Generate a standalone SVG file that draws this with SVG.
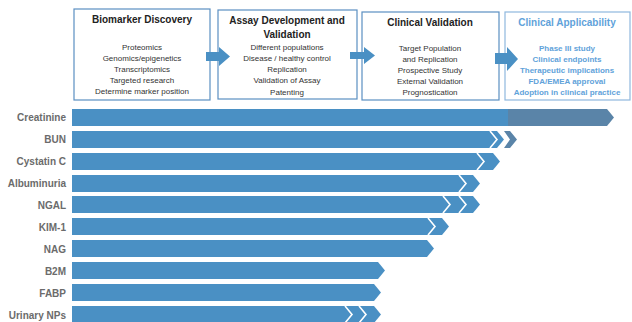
<svg xmlns="http://www.w3.org/2000/svg" width="632" height="322" viewBox="0 0 632 322">
<style>
.box{fill:#fff;stroke:#5b8fc2;stroke-width:1.2}
.box4{fill:#fff;stroke:#8fb8de;stroke-width:1.2}
.t{font-family:"Liberation Sans",Arial,sans-serif;font-size:10px;font-weight:bold;fill:#222;text-anchor:middle}
.i{font-family:"Liberation Sans",Arial,sans-serif;font-size:8px;fill:#333;text-anchor:middle}
.t4{fill:#5fa2da}
.i4{fill:#5fa2da;font-weight:bold}
.lbl{font-family:"Liberation Sans",Arial,sans-serif;font-size:10px;font-weight:bold;fill:#6b6b6b;text-anchor:end}
.bar{fill:#4a90c4}
.dark{fill:#5a84a8}
.chev{fill:none;stroke:#fff;stroke-width:1.6}
.arr{fill:#4a90c4}
</style>
<rect width="632" height="322" fill="#fff"/>
<g id="node-biomarker-discovery">
<rect class="box" x="74" y="9" width="136" height="91"/>
<text class="t" x="142" y="23">Biomarker Discovery</text>
<text class="i" x="142" y="50">Proteomics</text>
<text class="i" x="142" y="61">Genomics/epigenetics</text>
<text class="i" x="142" y="72">Transcriptomics</text>
<text class="i" x="142" y="83">Targeted research</text>
<text class="i" x="142" y="94">Determine marker position</text>
</g>
<g id="node-assay-development">
<rect class="box" x="218" y="10" width="139" height="89"/>
<text class="t" x="287" y="24">Assay Development and</text>
<text class="t" x="287" y="38">Validation</text>
<text class="i" x="287" y="50">Different populations</text>
<text class="i" x="287" y="61">Disease / healthy control</text>
<text class="i" x="287" y="72">Replication</text>
<text class="i" x="287" y="83">Validation of Assay</text>
<text class="i" x="287" y="95">Patenting</text>
</g>
<g id="node-clinical-validation">
<rect class="box" x="362" y="12" width="137" height="88"/>
<text class="t" x="430" y="26">Clinical Validation</text>
<text class="i" x="430" y="51">Target Population</text>
<text class="i" x="430" y="62">and Replication</text>
<text class="i" x="430" y="73">Prospective Study</text>
<text class="i" x="430" y="84">External Validation</text>
<text class="i" x="430" y="95">Prognostication</text>
</g>
<g id="node-clinical-applicability">
<rect class="box4" x="505" y="12" width="125" height="88"/>
<text class="t t4" x="567" y="26">Clinical Applicability</text>
<text class="i i4" x="567" y="51">Phase III study</text>
<text class="i i4" x="567" y="62">Clinical endpoints</text>
<text class="i i4" x="567" y="73">Therapeutic implications</text>
<text class="i i4" x="567" y="84">FDA/EMEA approval</text>
<text class="i i4" x="567" y="95">Adoption in clinical practice</text>
</g>
<g id="connectors">
<polygon class="arr" points="206,52 219,52 219,47 230,56.5 219,66 219,61 206,61"/>
<polygon class="arr" points="350,52 364,52 364,47 375,55.5 364,64 364,59 350,59"/>
<polygon class="arr" fill="#3f7fb5" points="495,53 507,53 507,47 518,59 507,71 507,64 495,64"/>
</g>
<g id="rows">
<g id="row-creatinine">
<text class="lbl" x="66" y="121">Creatinine</text>
<rect class="bar" x="72" y="109" width="437" height="17"/>
<polygon class="dark" points="508,109 607,109 614,117.5 607,126 508,126"/>
</g>
<g id="row-bun">
<text class="lbl" x="66" y="143">BUN</text>
<polygon class="bar" points="72,131 497,131 504,139.5 497,148 72,148"/>
<polyline class="chev" points="490,131 497,139.5 490,148"/>
<polygon class="dark" points="504,131 510,131 517,139.5 510,148 504,148 510,139.5"/>
</g>
<g id="row-cystatin-c">
<text class="lbl" x="66" y="165">Cystatin C</text>
<polygon class="bar" points="72,153 493,153 500,161.5 493,170 72,170"/>
<polyline class="chev" points="477,153 484,161.5 477,170"/>
</g>
<g id="row-albuminuria">
<text class="lbl" x="66" y="187">Albuminuria</text>
<polygon class="bar" points="72,175 473,175 480,183.5 473,192 72,192"/>
<polyline class="chev" points="459,175 466,183.5 459,192"/>
</g>
<g id="row-ngal">
<text class="lbl" x="66" y="209">NGAL</text>
<polygon class="bar" points="72,196 473,196 480,204.5 473,213 72,213"/>
<polyline class="chev" points="443,196 450,204.5 443,213"/>
<polyline class="chev" points="459,196 466,204.5 459,213"/>
</g>
<g id="row-kim-1">
<text class="lbl" x="66" y="231">KIM-1</text>
<polygon class="bar" points="72,218 442,218 449,226.5 442,235 72,235"/>
<polyline class="chev" points="428,218 435,226.5 428,235"/>
</g>
<g id="row-nag">
<text class="lbl" x="66" y="253">NAG</text>
<polygon class="bar" points="72,240 427,240 434,248.5 427,257 72,257"/>
</g>
<g id="row-b2m">
<text class="lbl" x="66" y="275">B2M</text>
<polygon class="bar" points="72,262 378,262 385,270.5 378,279 72,279"/>
</g>
<g id="row-fabp">
<text class="lbl" x="66" y="297">FABP</text>
<polygon class="bar" points="72,284 374,284 381,292.5 374,301 72,301"/>
</g>
<g id="row-urinary-nps">
<text class="lbl" x="66" y="319">Urinary NPs</text>
<polygon class="bar" points="72,306 374,306 381,314.5 374,323 72,323"/>
<polyline class="chev" points="345,306 352,314.5 345,323"/>
<polyline class="chev" points="359,306 366,314.5 359,323"/>
</g>
</g>
</svg>
